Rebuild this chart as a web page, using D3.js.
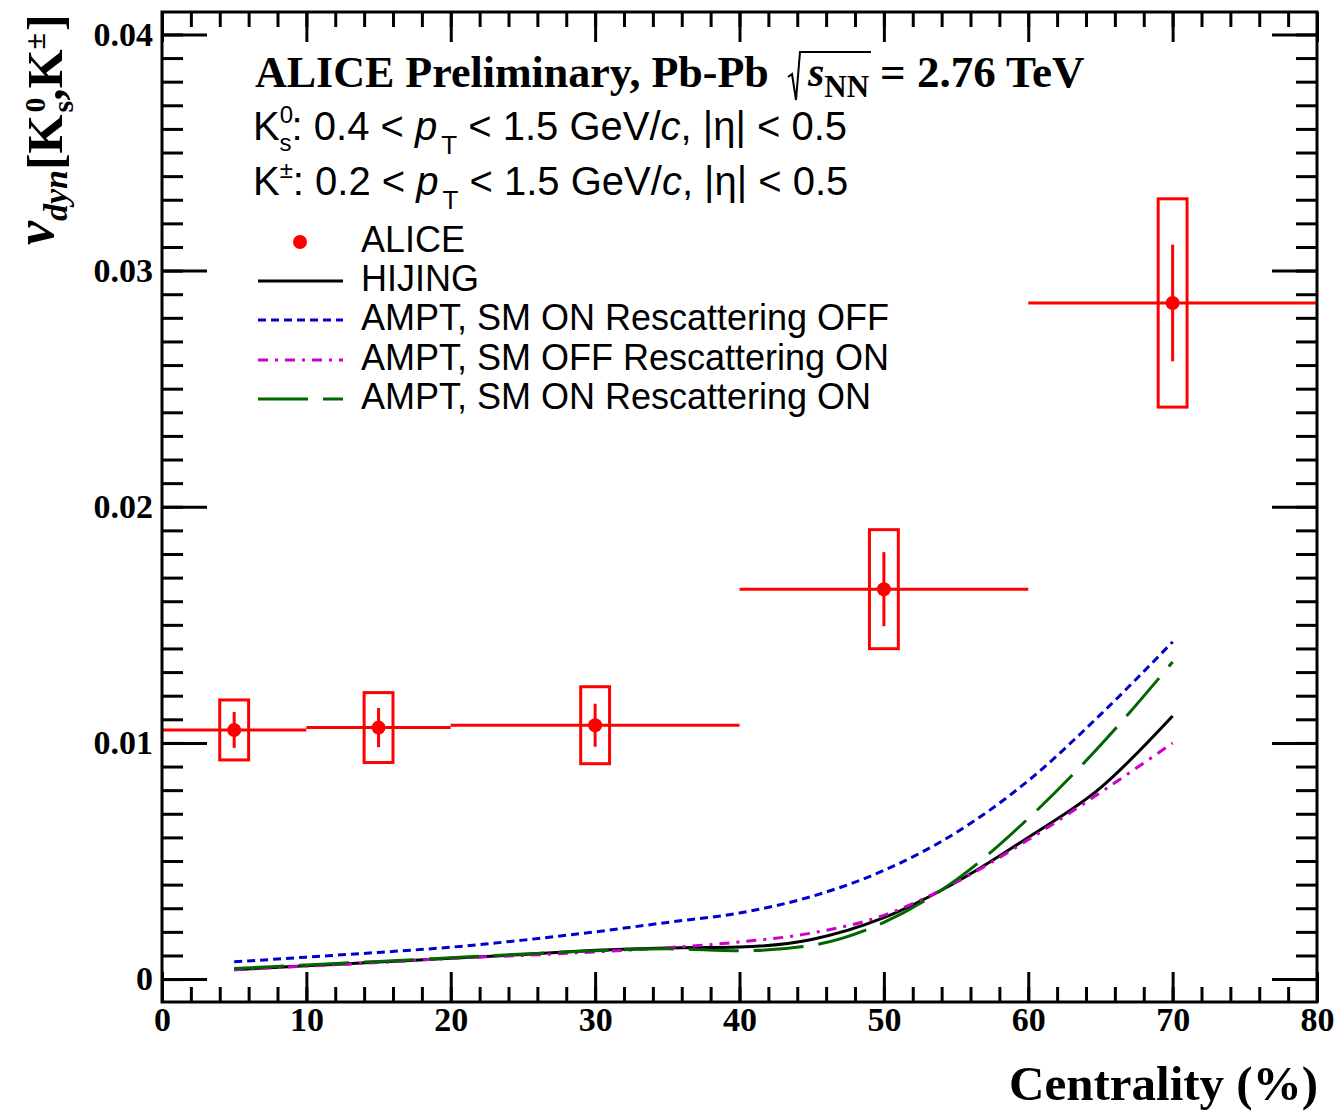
<!DOCTYPE html>
<html>
<head>
<meta charset="UTF-8">
<title>ALICE nu_dyn vs centrality</title>
<script src="https://d3js.org/d3.v7.min.js"></script>
<style>
  body { margin: 0; background: #fff; }
  .serif { font-family: 'Liberation Serif', 'Times New Roman', serif; font-weight: bold; }
  .sans { font-family: 'Liberation Sans', Arial, Helvetica, sans-serif; }
</style>
</head>
<body>
<svg id="chart" width="1334" height="1111"></svg>
<script>
  // ALICE data (centrality bins)
  const binLo = [0, 10, 20, 40, 60];
  const binHi = [10, 20, 40, 60, 80];
  const aliceX = [5, 15, 30, 50, 70];
  const aliceY = [0.01055, 0.01065, 0.01075, 0.01651, 0.02863];
  const aliceStat = [0.00076, 0.00083, 0.00091, 0.00157, 0.00247];
  const aliceSys = [0.00127, 0.00148, 0.00163, 0.00252, 0.00441];

  // model curves
  const modelX = [5, 10, 15, 20, 25, 30, 35, 40, 45, 50, 55, 60, 65, 70];
  const hijing = [0.0004, 0.00056, 0.00072, 0.00088, 0.00104, 0.00122, 0.00132, 0.00136, 0.00168, 0.0026, 0.0041, 0.006, 0.0081, 0.01114];
  const amptSmOnResOff = [0.00073, 0.00093, 0.00113, 0.00135, 0.00165, 0.002, 0.0024, 0.0028, 0.0035, 0.0046, 0.0062, 0.0084, 0.0112, 0.01428];
  const amptSmOffResOn = [0.0004, 0.00055, 0.0007, 0.00088, 0.001, 0.00115, 0.00133, 0.00157, 0.00195, 0.0027, 0.0041, 0.0059, 0.0079, 0.0100];
  const amptSmOnResOn = [0.00045, 0.0006, 0.00075, 0.0009, 0.00106, 0.0012, 0.00128, 0.0012, 0.00143, 0.0024, 0.0042, 0.0068, 0.0099, 0.01343];

  const legendNames = ["ALICE", "HIJING", "AMPT, SM ON Rescattering OFF", "AMPT, SM OFF Rescattering ON", "AMPT, SM ON Rescattering ON"];

  const yMajor = [0, 0.01, 0.02, 0.03, 0.04];
  const xMajor = [0, 10, 20, 30, 40, 50, 60, 70, 80];

  const models = [
    { name: legendNames[1], values: hijing, color: "#000000", dash: null },
    { name: legendNames[2], values: amptSmOnResOff, color: "#0000cc", dash: "8,5" },
    { name: legendNames[3], values: amptSmOffResOn, color: "#cc00cc", dash: "10,7,3,7" },
    { name: legendNames[4], values: amptSmOnResOn, color: "#006600", dash: "50,15" }
  ];

  const svg = d3.select("#chart");
  const x = d3.scaleLinear().domain([0, 80]).range([162, 1317]);
  const y = d3.scaleLinear().domain([-0.00097, 0.04095]).range([1002, 12]);
  const red = "#ff0000";

  // model curves
  const line = d3.line()
    .x(function(d) { return x(d[0]); })
    .y(function(d) { return y(d[1]); })
    .curve(d3.curveMonotoneX);

  models.forEach(function(m) {
    svg.append("path")
      .datum(modelX.map(function(v, i) { return [v, m.values[i]]; }))
      .attr("d", line)
      .attr("fill", "none")
      .attr("stroke", m.color)
      .attr("stroke-width", 3)
      .attr("stroke-dasharray", m.dash);
  });

  // ALICE points
  const pts = aliceX.map(function(v, i) {
    return { x: v, lo: binLo[i], hi: binHi[i], y: aliceY[i], stat: aliceStat[i], sys: aliceSys[i] };
  });
  const pg = svg.append("g");
  pg.selectAll(".hbar").data(pts).enter().append("line")
    .attr("x1", function(d) { return x(d.lo); })
    .attr("x2", function(d) { return x(d.hi); })
    .attr("y1", function(d) { return y(d.y); })
    .attr("y2", function(d) { return y(d.y); })
    .attr("stroke", red).attr("stroke-width", 3);
  pg.selectAll(".vbar").data(pts).enter().append("line")
    .attr("x1", function(d) { return x(d.x); })
    .attr("x2", function(d) { return x(d.x); })
    .attr("y1", function(d) { return y(d.y - d.stat); })
    .attr("y2", function(d) { return y(d.y + d.stat); })
    .attr("stroke", red).attr("stroke-width", 3);
  pg.selectAll(".sys").data(pts).enter().append("rect")
    .attr("x", function(d) { return x(d.x - 1); })
    .attr("width", function(d) { return x(d.x + 1) - x(d.x - 1); })
    .attr("y", function(d) { return y(d.y + d.sys); })
    .attr("height", function(d) { return y(d.y - d.sys) - y(d.y + d.sys); })
    .attr("fill", "none").attr("stroke", red).attr("stroke-width", 3);
  pg.selectAll(".dot").data(pts).enter().append("circle")
    .attr("cx", function(d) { return x(d.x); })
    .attr("cy", function(d) { return y(d.y); })
    .attr("r", 7)
    .attr("fill", red);

  // axes
  function styleAxis(g) {
    g.select(".domain").remove();
    g.selectAll("line").attr("stroke-width", 3);
    g.selectAll("text").attr("class", "serif").attr("font-size", 34).attr("fill", "#000");
  }
  const xMinor = d3.range(0, 81, 2);
  const yMinor = d3.range(0, 41).map(function(i) { return i * 0.001; });
  const xb = y.range()[0], xt = y.range()[1];
  const yl = x.range()[0], yr = x.range()[1];

  svg.append("g").attr("transform", `translate(0,${xb})`)
    .call(d3.axisBottom(x).tickValues(xMinor).tickSize(-15).tickFormat(""))
    .call(styleAxis);
  svg.append("g").attr("transform", `translate(0,${xb})`)
    .call(d3.axisBottom(x).tickValues(xMajor).tickSizeInner(-30).tickSizeOuter(0).tickPadding(5).tickFormat(d3.format("d")))
    .call(styleAxis);
  svg.append("g").attr("transform", `translate(0,${xt})`)
    .call(d3.axisTop(x).tickValues(xMinor).tickSize(-15).tickFormat(""))
    .call(styleAxis);
  svg.append("g").attr("transform", `translate(0,${xt})`)
    .call(d3.axisTop(x).tickValues(xMajor).tickSize(-30).tickFormat(""))
    .call(styleAxis);

  svg.append("g").attr("transform", `translate(${yl},0)`)
    .call(d3.axisLeft(y).tickValues(yMinor).tickSize(-21).tickFormat(""))
    .call(styleAxis);
  svg.append("g").attr("transform", `translate(${yl},0)`)
    .call(d3.axisLeft(y).tickValues(yMajor).tickSizeInner(-45).tickSizeOuter(0).tickPadding(9)
      .tickFormat(function(d) { return d === 0 ? "0" : d3.format(".2f")(d); }))
    .call(styleAxis);
  svg.append("g").attr("transform", `translate(${yr},0)`)
    .call(d3.axisRight(y).tickValues(yMinor).tickSize(-21).tickFormat(""))
    .call(styleAxis);
  svg.append("g").attr("transform", `translate(${yr},0)`)
    .call(d3.axisRight(y).tickValues(yMajor).tickSize(-45).tickFormat(""))
    .call(styleAxis);

  svg.append("rect")
    .attr("x", yl).attr("y", xt)
    .attr("width", yr - yl).attr("height", xb - xt)
    .attr("fill", "none").attr("stroke", "#000").attr("stroke-width", 3);

  // axis titles
  svg.append("text").attr("class", "serif")
    .attr("x", 1318).attr("y", 1100)
    .attr("text-anchor", "end").attr("font-size", 49)
    .text("Centrality (%)");

  const yt = svg.append("text").attr("class", "serif")
    .attr("transform", "translate(62,245) rotate(-90)")
    .attr("font-size", 50);
  yt.append("tspan").attr("font-style", "italic").attr("font-size", 54).attr("dy", -9).text("ν");
  yt.append("tspan").attr("font-style", "italic").attr("font-size", 34).attr("dy", 14).text("dyn");
  yt.append("tspan").attr("dy", -5).text("[K");
  yt.append("tspan").attr("font-size", 30).attr("dx", 2).attr("dy", -17).text("0");
  yt.append("tspan").attr("font-size", 30).attr("dx", -15).attr("dy", 28).text("s");
  yt.append("tspan").attr("dy", -11).text(",K");
  yt.append("tspan").attr("font-size", 30).attr("dy", -17).text("±");
  yt.append("tspan").attr("dx", 2).attr("dy", 17).text("]");

  // header
  svg.append("text").attr("class", "serif").attr("x", 255).attr("y", 87)
    .attr("font-size", 44).text("ALICE Preliminary, Pb-Pb");
  svg.append("path")
    .attr("d", "M788,77 L792,74 L796,100 L800,52 L871,52")
    .attr("fill", "none").attr("stroke", "#000").attr("stroke-width", 2);
  const sq = svg.append("text").attr("class", "serif").attr("x", 808).attr("y", 86)
    .attr("font-weight", "normal");
  sq.append("tspan").attr("font-style", "italic").attr("font-size", 42).text("s");
  sq.append("tspan").attr("font-size", 31).attr("dy", 11).text("NN");
  svg.append("text").attr("class", "serif").attr("x", 880).attr("y", 87)
    .attr("font-size", 45).text("= 2.76 TeV");

  function kinLine(yy, sup, sub, lo) {
    const t = svg.append("text").attr("class", "sans").attr("x", 253).attr("y", yy).attr("font-size", 40);
    t.append("tspan").text("K");
    t.append("tspan").attr("font-size", 24).attr("dy", -17).text(sup);
    let back = 17;
    if (sub) {
      t.append("tspan").attr("font-size", 24).attr("dx", -13.5).attr("dy", 28).text(sub);
      back = -11;
    }
    t.append("tspan").attr("dy", back).text(": " + lo + " < ");
    t.append("tspan").attr("font-style", "italic").text("p");
    t.append("tspan").attr("font-size", 26).attr("dx", 4).attr("dy", 14).text("T");
    t.append("tspan").attr("dy", -14).text(" < 1.5 GeV/");
    t.append("tspan").attr("font-style", "italic").text("c");
    t.append("tspan").text(", |η| < 0.5");
  }
  kinLine(140, "0", "s", "0.4");
  kinLine(195, "±", null, "0.2");

  // legend
  const legY = [242, 281, 320, 360, 399];
  const lg = svg.append("g");
  lg.append("circle").attr("cx", 300).attr("cy", legY[0]).attr("r", 7).attr("fill", red);
  models.forEach(function(m, i) {
    lg.append("line")
      .attr("x1", 258).attr("x2", 343)
      .attr("y1", legY[i + 1]).attr("y2", legY[i + 1])
      .attr("stroke", m.color).attr("stroke-width", 3)
      .attr("stroke-dasharray", m.dash);
  });
  legendNames.forEach(function(n, i) {
    lg.append("text").attr("class", "sans")
      .attr("x", 361).attr("y", legY[i] + 10)
      .attr("font-size", 36).text(n);
  });
</script>
</body>
</html>
